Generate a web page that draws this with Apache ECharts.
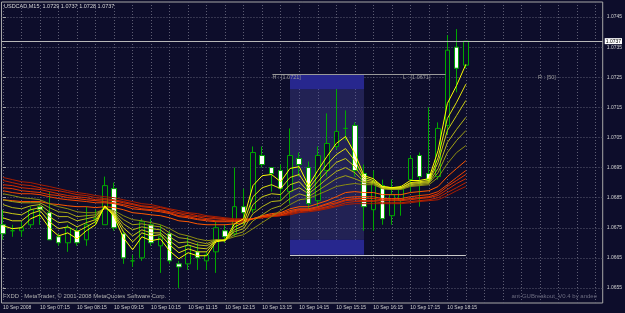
<!DOCTYPE html>
<html>
<head>
<meta charset="utf-8">
<script src="https://cdn.jsdelivr.net/npm/echarts@6/dist/echarts.min.js"></script>
<style>
    html, body { margin: 0; padding: 0; background: #0d0d2b; }
    #main { width: 625px; height: 313px; }
</style>
</head>
<body>
<div id="main"></div>
<script>
// USDCAD M15, 10 Sep 2008, one value per bar (first bar 06:15)
var opens = [1.0676,1.0674,1.0674,1.0676,1.0682,1.0680,1.0672,1.0670,1.0674,1.0671,1.0678,1.0676,1.0688,1.0673,1.0664,1.0665,1.0676,1.0669,1.0673,1.0663,
    1.0663,1.0667,1.0664,1.0667,1.0674,1.0673,1.0682,1.0681,1.0699,1.0695,1.0694,1.0687,1.0698,1.0695,1.0684,1.0694,1.0702,1.0708,1.0709,1.0693,
    1.0681,1.0689,1.0679,1.0684,1.0691,1.0699,1.0693,1.0692,1.0709,1.0735,1.0729];
var highs = [1.0681,1.0676,1.0677,1.0682,1.0683,1.0687,1.0673,1.0676,1.0675,1.0682,1.0681,1.0692,1.0690,1.0674,1.0666,1.0678,1.0678,1.0676,1.0674,1.0664,
    1.0672,1.0670,1.0667,1.0677,1.0676,1.0695,1.0688,1.0702,1.0702,1.0695,1.0696,1.0708,1.0700,1.0697,1.0702,1.0713,1.0721,1.0714,1.0710,1.0696,
    1.0694,1.0691,1.0691,1.0689,1.0699,1.0700,1.0715,1.0710,1.0739,1.0741,1.0737];
var lows = [1.0671,1.0672,1.0672,1.0675,1.0676,1.0671,1.0669,1.0667,1.0669,1.0669,1.0676,1.0676,1.0674,1.0663,1.0662,1.0664,1.0669,1.0660,1.0663,1.0655,
    1.0661,1.0661,1.0661,1.0660,1.0670,1.0672,1.0676,1.0680,1.0695,1.0687,1.0684,1.0683,1.0692,1.0681,1.0682,1.0692,1.0701,1.0704,1.0692,1.0674,
    1.0674,1.0676,1.0676,1.0679,1.0687,1.0682,1.0690,1.0691,1.0706,1.0720,1.0728];
var closes = [1.0673,1.0674,1.0675,1.0681,1.0681,1.0671,1.0670,1.0675,1.0670,1.0676,1.0678,1.0689,1.0675,1.0665,1.0664,1.0677,1.0670,1.0672,1.0664,1.0662,
    1.0669,1.0665,1.0666,1.0675,1.0672,1.0682,1.0680,1.0700,1.0696,1.0693,1.0688,1.0699,1.0696,1.0683,1.0699,1.0703,1.0707,1.0708,1.0694,1.0682,
    1.0690,1.0678,1.0686,1.0688,1.0698,1.0692,1.0691,1.0708,1.0734,1.0728,1.0737];

// short averages (yellow), fastest first
var fast1 = [1.06757,1.06747,1.06750,1.06780,1.06793,1.06750,1.06723,1.06733,1.06713,1.06740,1.06760,1.06823,1.06787,1.06717,1.06677,1.06720,1.06707,1.06713,1.06673,1.06647,
    1.06667,1.06657,1.06657,1.06703,1.06710,1.06763,1.06780,1.06890,1.06923,1.06927,1.06903,1.06947,1.06953,1.06890,1.06940,1.06987,1.07030,1.07053,1.06997,1.06923,
    1.06913,1.06887,1.06883,1.06887,1.06907,1.06907,1.06913,1.07007,1.07163,1.07223,1.07293];
var fast2 = [1.06783,1.06773,1.06773,1.06797,1.06807,1.06770,1.06747,1.06753,1.06737,1.06753,1.06770,1.06820,1.06793,1.06737,1.06703,1.06733,1.06723,1.06727,1.06693,1.06667,
    1.06680,1.06670,1.06670,1.06707,1.06707,1.06753,1.06767,1.06853,1.06883,1.06893,1.06880,1.06917,1.06927,1.06880,1.06920,1.06960,1.06993,1.07013,1.06973,1.06917,
    1.06907,1.06887,1.06883,1.06883,1.06900,1.06903,1.06907,1.06983,1.07113,1.07167,1.07227];
var fast3 = [1.06803,1.06797,1.06793,1.06810,1.06817,1.06787,1.06767,1.06770,1.06753,1.06767,1.06777,1.06820,1.06797,1.06750,1.06723,1.06743,1.06733,1.06733,1.06707,1.06683,
    1.06693,1.06683,1.06680,1.06707,1.06707,1.06743,1.06757,1.06827,1.06853,1.06863,1.06860,1.06893,1.06903,1.06870,1.06903,1.06937,1.06967,1.06980,1.06953,1.06910,
    1.06903,1.06883,1.06880,1.06883,1.06897,1.06900,1.06903,1.06967,1.07073,1.07123,1.07173];
var fast4 = [1.06827,1.06817,1.06813,1.06823,1.06827,1.06803,1.06787,1.06787,1.06773,1.06780,1.06787,1.06817,1.06800,1.06763,1.06743,1.06753,1.06747,1.06743,1.06720,1.06700,
    1.06703,1.06693,1.06690,1.06707,1.06707,1.06737,1.06747,1.06797,1.06820,1.06837,1.06840,1.06870,1.06883,1.06863,1.06887,1.06913,1.06937,1.06950,1.06933,1.06903,
    1.06900,1.06883,1.06880,1.06880,1.06893,1.06897,1.06900,1.06947,1.07033,1.07077,1.07117];
var fast5 = [1.06843,1.06837,1.06833,1.06833,1.06833,1.06817,1.06803,1.06800,1.06787,1.06790,1.06793,1.06817,1.06803,1.06777,1.06760,1.06763,1.06757,1.06753,1.06733,1.06717,
    1.06713,1.06703,1.06697,1.06710,1.06710,1.06727,1.06737,1.06773,1.06793,1.06813,1.06823,1.06847,1.06863,1.06853,1.06873,1.06893,1.06913,1.06923,1.06913,1.06900,
    1.06897,1.06880,1.06877,1.06880,1.06890,1.06893,1.06897,1.06933,1.07000,1.07040,1.07073];
var fast6 = [1.06863,1.06857,1.06850,1.06847,1.06843,1.06830,1.06820,1.06813,1.06803,1.06800,1.06800,1.06813,1.06807,1.06790,1.06777,1.06773,1.06767,1.06760,1.06747,1.06730,
    1.06723,1.06713,1.06707,1.06710,1.06710,1.06720,1.06727,1.06747,1.06767,1.06787,1.06807,1.06827,1.06843,1.06847,1.06860,1.06873,1.06887,1.06893,1.06897,1.06893,
    1.06893,1.06880,1.06877,1.06877,1.06887,1.06890,1.06893,1.06917,1.06963,1.07000,1.07023];

// long averages (orange/red), fastest first
var slow1 = [1.06843,1.06840,1.06837,1.06837,1.06837,1.06830,1.06827,1.06823,1.06820,1.06820,1.06817,1.06820,1.06817,1.06810,1.06800,1.06797,1.06793,1.06790,1.06783,1.06773,
    1.06770,1.06763,1.06760,1.06760,1.06760,1.06763,1.06767,1.06780,1.06790,1.06797,1.06800,1.06813,1.06820,1.06820,1.06830,1.06840,1.06853,1.06867,1.06870,1.06867,
    1.06867,1.06860,1.06860,1.06860,1.06867,1.06870,1.06873,1.06887,1.06920,1.06947,1.06973];
var slow2 = [1.06873,1.06867,1.06863,1.06863,1.06860,1.06853,1.06847,1.06843,1.06840,1.06837,1.06833,1.06833,1.06830,1.06823,1.06813,1.06810,1.06807,1.06803,1.06797,1.06787,
    1.06783,1.06777,1.06773,1.06770,1.06770,1.06770,1.06773,1.06780,1.06787,1.06793,1.06797,1.06807,1.06813,1.06813,1.06820,1.06830,1.06840,1.06850,1.06853,1.06853,
    1.06853,1.06847,1.06847,1.06847,1.06853,1.06857,1.06860,1.06870,1.06893,1.06917,1.06940];
var slow3 = [1.06883,1.06880,1.06873,1.06870,1.06867,1.06860,1.06857,1.06850,1.06847,1.06843,1.06840,1.06837,1.06833,1.06827,1.06820,1.06813,1.06810,1.06807,1.06800,1.06790,
    1.06787,1.06780,1.06777,1.06773,1.06773,1.06773,1.06773,1.06780,1.06787,1.06790,1.06793,1.06803,1.06810,1.06810,1.06817,1.06827,1.06833,1.06843,1.06847,1.06847,
    1.06847,1.06843,1.06843,1.06843,1.06847,1.06850,1.06853,1.06863,1.06887,1.06907,1.06927];
var slow4 = [1.06893,1.06890,1.06883,1.06880,1.06877,1.06870,1.06863,1.06857,1.06853,1.06850,1.06843,1.06843,1.06840,1.06833,1.06827,1.06820,1.06817,1.06810,1.06803,1.06797,
    1.06790,1.06787,1.06780,1.06780,1.06777,1.06773,1.06777,1.06780,1.06787,1.06790,1.06793,1.06800,1.06807,1.06807,1.06813,1.06820,1.06830,1.06840,1.06843,1.06840,
    1.06840,1.06840,1.06840,1.06840,1.06843,1.06847,1.06850,1.06857,1.06877,1.06897,1.06913];
var slow5 = [1.06907,1.06900,1.06893,1.06890,1.06883,1.06877,1.06873,1.06867,1.06860,1.06857,1.06850,1.06847,1.06843,1.06837,1.06830,1.06823,1.06820,1.06817,1.06810,1.06800,
    1.06797,1.06790,1.06787,1.06783,1.06780,1.06777,1.06777,1.06780,1.06783,1.06787,1.06790,1.06797,1.06803,1.06807,1.06810,1.06817,1.06823,1.06833,1.06837,1.06837,
    1.06837,1.06833,1.06833,1.06833,1.06837,1.06840,1.06843,1.06850,1.06867,1.06883,1.06900];
var slow6 = [1.06917,1.06910,1.06903,1.06900,1.06893,1.06887,1.06880,1.06873,1.06867,1.06863,1.06857,1.06853,1.06850,1.06843,1.06837,1.06830,1.06827,1.06820,1.06813,1.06807,
    1.06800,1.06797,1.06790,1.06787,1.06783,1.06780,1.06780,1.06780,1.06783,1.06787,1.06790,1.06793,1.06800,1.06803,1.06807,1.06813,1.06820,1.06827,1.06830,1.06830,
    1.06830,1.06830,1.06830,1.06830,1.06833,1.06837,1.06840,1.06843,1.06857,1.06873,1.06887];

var timeLabels = ['10 Sep 2008', '10 Sep 07:15', '10 Sep 08:15', '10 Sep 09:15', '10 Sep 10:15', '10 Sep 11:15', '10 Sep 12:15',
    '10 Sep 13:15', '10 Sep 14:15', '10 Sep 15:15', '10 Sep 16:15', '10 Sep 17:15', '10 Sep 18:15'];
var priceTicks = [1.0655, 1.0665, 1.0675, 1.0685, 1.0695, 1.0705, 1.0715, 1.0725, 1.0735, 1.0745];

// breakout box (14:00 - 16:00)
var boxHigh = 1.0721;
var boxLow = 1.0671;
var boxPad = 0.0005;
var boxRange = 50;
var boxStart = 31;
var boxEnd = 39;

var BG = '#0d0d2b';
var GREEN = '#00a800';
var GRID = '#5e5e74';
var FONT = 'Liberation Sans';
var barsPerLabel = 4;
var xMin = -0.162, xMax = 64.78;

var myChart = echarts.init(document.getElementById('main'));

var candleData = opens.map(function (o, i) {
    return [i, o, closes[i], lows[i], highs[i]];
});

function lineSeries(values, color, extra) {
    var s = {
        type: 'line',
        data: values.map(function (v, i) { return [i, v]; }),
        showSymbol: false,
        silent: true,
        lineStyle: { color: color, width: 1 },
        z: 3
    };
    if (extra) {
        for (var k in extra) s[k] = extra[k];
    }
    return s;
}

var gridBars = [];
for (var g = 0; g <= 64; g += 2) gridBars.push(g);
var labelBars = timeLabels.map(function (t, i) { return i * barsPerLabel; });

var last = closes.length - 1;
var ohlcText = [opens[last], highs[last], lows[last], closes[last]].map(function (v) { return v.toFixed(4); }).join(' ');

// bid line and the box lines sit on a line series so plain coords are used
var boxMarkers = {
    markLine: {
        silent: true,
        symbol: ['none', 'none'],
        data: [
            [
                {
                    coord: [xMin, closes[last]],
                    lineStyle: { color: '#b8b8b8', width: 1, type: 'solid' },
                    label: {
                        show: true, position: 'end', distance: 2,
                        formatter: closes[last].toFixed(4),
                        color: '#000', backgroundColor: '#ffffff',
                        padding: [1, 1, 0, 1], fontSize: 5, fontFamily: FONT
                    }
                },
                { coord: [xMax, closes[last]] }
            ],
            [
                { coord: [29.1, boxHigh + boxPad], lineStyle: { color: '#9a9a9a', width: 1, type: 'solid' }, label: { show: false } },
                { coord: [47.8, boxHigh + boxPad] }
            ],
            [
                { coord: [boxStart, boxLow - boxPad], lineStyle: { color: '#c8c8c8', width: 1, type: 'solid' }, label: { show: false } },
                { coord: [50, boxLow - boxPad] }
            ]
        ]
    },
    markPoint: {
        silent: true,
        symbol: 'circle',
        symbolSize: 0,
        label: { show: true, position: 'right', distance: 0, color: '#9a9a9a', fontSize: 5.5, fontFamily: FONT },
        data: [
            { coord: [29.1, 1.0725], label: { formatter: 'H : [' + boxHigh.toFixed(4) + ']' } },
            { coord: [43.2, 1.0725], label: { formatter: 'L : [' + boxLow.toFixed(4) + ']' } },
            { coord: [57.8, 1.0725], label: { formatter: 'R : [' + boxRange + ']' } }
        ]
    }
};

var option = {
    animation: false,
    backgroundColor: BG,
    grid: {
        left: 1, right: 22, top: 2, bottom: 10,
        show: true, borderColor: '#a8a8a8', borderWidth: 1, backgroundColor: 'transparent'
    },
    xAxis: {
        type: 'value',
        min: xMin,
        max: xMax,
        axisLine: { show: false },
        axisTick: { show: false, customValues: gridBars },
        axisLabel: {
            customValues: labelBars,
            formatter: function (v) { return timeLabels[Math.round(v / barsPerLabel)]; },
            align: 'left', margin: 2,
            color: '#d0d0d0', fontSize: 5, fontFamily: FONT
        },
        splitLine: { show: true, lineStyle: { color: GRID, width: 1, type: [1, 2] } }
    },
    yAxis: {
        type: 'value',
        position: 'right',
        min: 1.0650,
        max: 1.0750,
        axisLine: { show: false },
        axisTick: { show: true, customValues: priceTicks, length: 3, lineStyle: { color: '#a8a8a8' } },
        axisLabel: {
            customValues: priceTicks,
            formatter: function (v) { return v.toFixed(4); },
            margin: 4,
            color: '#d0d0d0', fontSize: 5, fontFamily: FONT
        },
        splitLine: { show: true, lineStyle: { color: GRID, width: 1, type: [1, 2] } }
    },
    graphic: [
        { type: 'text', left: 4, top: 3, style: { text: 'USDCAD,M15  ' + ohlcText, fill: '#d8d8d8', font: '5.5px ' + FONT } },
        { type: 'text', left: 3, top: 293, style: { text: 'FXDD - MetaTrader, \u00a9 2001-2008 MetaQuotes Software Corp.', fill: '#b0b0b0', font: '5.9px ' + FONT } },
        { type: 'text', right: 28, top: 293, style: { text: 'ant-GUBreakout_V0.4 by andee', fill: '#6c6c80', font: '6px ' + FONT } }
    ],
    series: [
        {
            type: 'candlestick',
            data: candleData,
            encode: { x: 0, y: [1, 2, 3, 4] },
            barWidth: 5,
            silent: true,
            z: 2,
            itemStyle: {
                color: BG, color0: '#ffffff',
                borderColor: GREEN, borderColor0: GREEN, borderWidth: 1
            },
            markArea: {
                silent: true,
                z: 1,
                data: [
                    [{ coord: [boxStart, boxHigh + boxPad], itemStyle: { color: '#27278e' } }, { coord: [boxEnd, boxHigh] }],
                    [{ coord: [boxStart, boxHigh], itemStyle: { color: 'rgba(80,80,170,0.32)' } }, { coord: [boxEnd, boxLow] }],
                    [{ coord: [boxStart, boxLow], itemStyle: { color: '#27278e' } }, { coord: [boxEnd, boxLow - boxPad] }]
                ]
            }
        },
        lineSeries(slow6, '#a81c00'),
        lineSeries(slow5, '#bc2400'),
        lineSeries(slow4, '#d02c00'),
        lineSeries(slow3, '#e23600'),
        lineSeries(slow2, '#f04400'),
        lineSeries(slow1, '#ff5800'),
        lineSeries(fast6, '#8c8c10'),
        lineSeries(fast5, '#a2a214'),
        lineSeries(fast4, '#b8b818'),
        lineSeries(fast3, '#cccc14'),
        lineSeries(fast2, '#e4e40c'),
        lineSeries(fast1, '#ffff00', boxMarkers)
    ]
};

myChart.setOption(option);
</script>
</body>
</html>
